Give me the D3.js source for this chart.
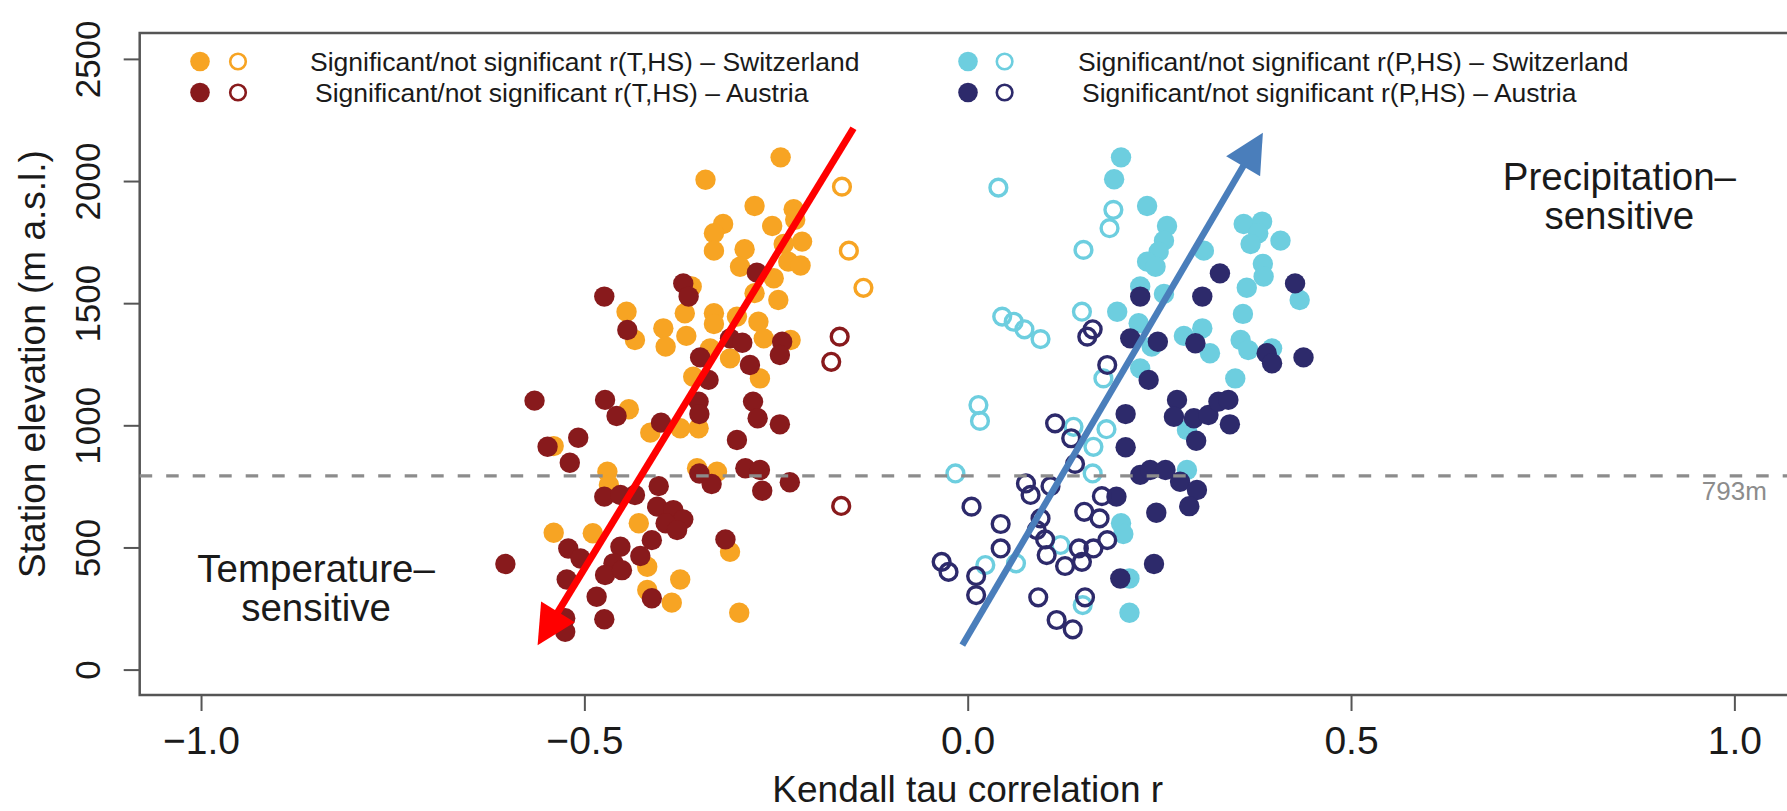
<!DOCTYPE html>
<html><head><meta charset="utf-8">
<script src="https://cdn.jsdelivr.net/npm/d3@7"></script>
<style>html,body{margin:0;padding:0;background:#fff;overflow:hidden}</style>
</head><body><svg id="c" width="1787" height="811"></svg>
<script>
// ---------------- data ----------------
const xTicks = [-1, -0.5, 0, 0.5, 1];
const yTicks = [0, 500, 1000, 1500, 2000, 2500];
const thresholdElevation = 793;
const thresholdLabel = "793m";
const xTitle = "Kendall tau correlation r";
const yTitle = "Station elevation (m a.s.l.)";
const legendLabels = [
  "Significant/not significant r(T,HS) \u2013 Switzerland",
  "Significant/not significant r(T,HS) \u2013 Austria",
  "Significant/not significant r(P,HS) \u2013 Switzerland",
  "Significant/not significant r(P,HS) \u2013 Austria"
];
const regionLabels = [["Temperature\u2013","sensitive"],["Precipitation\u2013","sensitive"]];
const regionAnchors = [[-0.85, 359], [0.85, 1963]];
// arrows: [start, tip] in (r, elevation)
const tempArrow = [[-0.149, 2216], [-0.561, 100]];
const precArrow = [[-0.007, 100], [0.385, 2198]];

// [r, elevation] per station
const chT_sig = [[-0.244,2097],[-0.342,2005],[-0.278,1898],[-0.227,1885],[-0.319,1824],[-0.255,1816],[-0.331,1786],[-0.225,1841],[-0.331,1715],[-0.291,1721],[-0.216,1752],[-0.240,1742],[-0.297,1649],[-0.234,1670],[-0.218,1654],[-0.253,1602],[-0.278,1541],[-0.247,1513],[-0.360,1568],[-0.445,1465],[-0.369,1459],[-0.331,1459],[-0.397,1397],[-0.434,1349],[-0.394,1322],[-0.367,1366],[-0.331,1415],[-0.301,1445],[-0.273,1424],[-0.266,1356],[-0.231,1349],[-0.310,1274],[-0.336,1315],[-0.358,1199],[-0.271,1192],[-0.442,1066],[-0.351,988],[-0.375,988],[-0.414,970],[-0.540,915],[-0.470,810],[-0.468,756],[-0.353,824],[-0.327,810],[-0.429,599],[-0.540,560],[-0.489,558],[-0.418,421],[-0.310,482],[-0.375,369],[-0.418,326],[-0.386,274],[-0.298,233]];
const chT_ns = [[-0.164,1977],[-0.155,1715],[-0.136,1563]];
const atT_sig = [[-0.275,1625],[-0.371,1581],[-0.364,1527],[-0.474,1527],[-0.444,1390],[-0.310,1356],[-0.294,1338],[-0.242,1342],[-0.245,1288],[-0.349,1278],[-0.284,1247],[-0.338,1186],[-0.565,1101],[-0.473,1104],[-0.458,1038],[-0.351,1097],[-0.350,1046],[-0.400,1011],[-0.280,1097],[-0.274,1029],[-0.245,1004],[-0.508,949],[-0.548,912],[-0.519,847],[-0.301,940],[-0.350,803],[-0.334,760],[-0.290,824],[-0.271,817],[-0.268,732],[-0.232,767],[-0.403,751],[-0.474,708],[-0.453,715],[-0.434,715],[-0.405,667],[-0.384,653],[-0.371,615],[-0.394,599],[-0.379,571],[-0.412,530],[-0.521,496],[-0.505,455],[-0.453,503],[-0.427,465],[-0.462,435],[-0.473,387],[-0.451,407],[-0.603,432],[-0.523,369],[-0.316,533],[-0.412,292],[-0.484,298],[-0.474,206],[-0.525,210],[-0.525,155]];
const atT_ns = [[-0.167,1363],[-0.178,1260],[-0.165,670]];
const chP_sig = [[0.200,2097],[0.191,2007],[0.234,1898],[0.260,1816],[0.256,1756],[0.249,1711],[0.234,1670],[0.245,1649],[0.360,1824],[0.384,1834],[0.379,1786],[0.369,1742],[0.408,1756],[0.308,1715],[0.385,1661],[0.386,1609],[0.364,1563],[0.433,1513],[0.225,1568],[0.256,1538],[0.195,1465],[0.223,1418],[0.359,1456],[0.306,1397],[0.282,1366],[0.356,1349],[0.366,1308],[0.316,1295],[0.397,1315],[0.240,1322],[0.225,1233],[0.349,1192],[0.286,981],[0.286,817],[0.200,599],[0.203,555],[0.211,373],[0.211,233]];
const chP_ns = [[0.040,1973],[0.190,1882],[0.185,1807],[0.151,1718],[0.045,1445],[0.060,1424],[0.074,1393],[0.095,1353],[0.149,1465],[0.177,1192],[0.014,1083],[0.016,1018],[0.138,994],[0.181,984],[0.164,912],[0.163,803],[-0.016,803],[0.121,510],[0.023,428],[0.063,435],[0.150,264]];
const atP_sig = [[0.329,1622],[0.427,1581],[0.306,1527],[0.225,1527],[0.212,1356],[0.248,1342],[0.297,1336],[0.390,1295],[0.397,1254],[0.438,1278],[0.236,1186],[0.273,1104],[0.269,1035],[0.295,1029],[0.314,1042],[0.327,1097],[0.340,1104],[0.342,1004],[0.298,937],[0.206,1046],[0.206,910],[0.225,797],[0.238,817],[0.258,817],[0.277,769],[0.299,735],[0.289,669],[0.194,708],[0.246,642],[0.243,432],[0.199,373]];
const atP_ns = [[0.163,1393],[0.156,1363],[0.182,1247],[0.114,1008],[0.135,947],[0.140,842],[0.076,762],[0.082,715],[0.108,751],[0.175,710],[0.005,667],[0.152,646],[0.172,619],[0.043,596],[0.095,619],[0.090,571],[0.101,533],[0.043,496],[0.145,496],[0.164,496],[0.182,530],[0.103,469],[0.127,424],[0.149,441],[-0.034,441],[-0.025,400],[0.011,383],[0.011,305],[0.092,296],[0.153,296],[0.116,203],[0.137,165]];

// ---------------- drawing ----------------
const FONT = "'Liberation Sans', Arial, Helvetica, sans-serif";
const C = {orange:"#F7A423", darkred:"#881A1C", cyan:"#6DCEDF", navy:"#2D2A6B"};
const svg = d3.select("#c");
svg.append("rect").attr("width",1787).attr("height",811).attr("fill","#fff");

const x = d3.scaleLinear().domain([-1.08, 1.08]).range([139.7, 1795.7]);
const y = d3.scaleLinear().domain([-104, 2606]).range([695, 33]);

// x axis
const gx = svg.append("g").attr("transform","translate(0,695)")
  .call(d3.axisBottom(x).tickValues(xTicks).tickFormat(d3.format(".1f")).tickSize(16).tickSizeOuter(0));
gx.select(".domain").remove();
gx.selectAll(".tick line").attr("stroke","#555").attr("stroke-width",2);
gx.selectAll(".tick text").attr("y",59).attr("dy",0)
  .attr("font-family",FONT).attr("font-size",39).attr("fill","#1a1a1a");

// y axis
const gy = svg.append("g").attr("transform","translate(139.7,0)")
  .call(d3.axisLeft(y).tickValues(yTicks).tickFormat(d3.format("d")).tickSize(16).tickSizeOuter(0));
gy.select(".domain").remove();
gy.selectAll(".tick line").attr("stroke","#555").attr("stroke-width",2);
gy.selectAll(".tick text").attr("transform","rotate(-90)").attr("x",0).attr("y",-40).attr("dy",0)
  .attr("text-anchor","middle").attr("font-family",FONT).attr("font-size",35).attr("fill","#1a1a1a");

// box
svg.append("rect").attr("x",x(-1.08)).attr("y",y(2606)).attr("width",x(1.08)-x(-1.08)).attr("height",y(-104)-y(2606))
  .attr("fill","none").attr("stroke","#555").attr("stroke-width",2.5);

// titles
svg.append("text").attr("x",x(0)).attr("y",802).attr("text-anchor","middle")
  .attr("font-family",FONT).attr("font-size",37).attr("fill","#1a1a1a").text(xTitle);
svg.append("text").attr("transform",`translate(45,${(y(2606)+y(-104))/2}) rotate(-90)`).attr("text-anchor","middle")
  .attr("font-family",FONT).attr("font-size",37).attr("fill","#1a1a1a").text(yTitle);

// points
function drawPts(data, color, filled){
  svg.append("g").selectAll("circle").data(data).join("circle")
    .attr("cx",d=>x(d[0])).attr("cy",d=>y(d[1]))
    .attr("r", filled ? 10.2 : 8.4)
    .attr("fill", filled ? color : "none")
    .attr("stroke", filled ? "none" : color)
    .attr("stroke-width", filled ? 0 : 3.4);
}
drawPts(chT_sig, C.orange, true);
drawPts(chT_ns, C.orange, false);
drawPts(atT_sig, C.darkred, true);
drawPts(atT_ns, C.darkred, false);
drawPts(chP_sig, C.cyan, true);
drawPts(chP_ns, C.cyan, false);
drawPts(atP_sig, C.navy, true);
drawPts(atP_ns, C.navy, false);

// threshold line
svg.append("line").attr("x1",x(-1.08)).attr("x2",1787).attr("y1",y(thresholdElevation)).attr("y2",y(thresholdElevation))
  .attr("stroke","#8c8c8c").attr("stroke-width",3.2).attr("stroke-dasharray","12.5,14");
svg.append("text").attr("x",x(1)).attr("y",y(thresholdElevation)+24).attr("text-anchor","middle")
  .attr("font-family",FONT).attr("font-size",26).attr("fill","#8c8c8c").text(thresholdLabel);

// region labels
regionLabels.forEach((lines,i)=>{
  const t = svg.append("text").attr("text-anchor","middle").attr("font-family",FONT)
    .attr("font-size",38.5).attr("fill","#1a1a1a");
  lines.forEach((s,j)=>{
    t.append("tspan").attr("x",x(regionAnchors[i][0])).attr("y",y(regionAnchors[i][1])+j*39).text(s);
  });
});

// arrows
function drawArrow(pts, color, w){
  const p0=[x(pts[0][0]),y(pts[0][1])], p1=[x(pts[1][0]),y(pts[1][1])];
  const dx=p1[0]-p0[0], dy=p1[1]-p0[1], L=Math.hypot(dx,dy), ux=dx/L, uy=dy/L;
  const hl=39, hw=19.7;
  const b=[p1[0]-ux*hl, p1[1]-uy*hl];
  svg.append("line").attr("x1",p0[0]).attr("y1",p0[1]).attr("x2",b[0]+ux*4).attr("y2",b[1]+uy*4)
    .attr("stroke",color).attr("stroke-width",w);
  svg.append("path").attr("d",`M${p1[0]},${p1[1]}L${b[0]-uy*hw},${b[1]+ux*hw}L${b[0]+uy*hw},${b[1]-ux*hw}Z`)
    .attr("fill",color);
}
drawArrow(tempArrow, "#FF0000", 7);
drawArrow(precArrow, "#4A7EBB", 6.5);

// legend
const legendCols = [
  {sx:[200,238], tx:[310,315], col:[C.orange,C.darkred]},
  {sx:[968,1004.6], tx:[1078,1082], col:[C.cyan,C.navy]}
];
const rowY=[61.5,92.5];
legendCols.forEach((c,ci)=>{
  [0,1].forEach(ri=>{
    const g=svg.append("g");
    g.append("circle").attr("cx",c.sx[0]).attr("cy",rowY[ri]).attr("r",9.8).attr("fill",c.col[ri]);
    g.append("circle").attr("cx",c.sx[1]).attr("cy",rowY[ri]).attr("r",7.8).attr("fill","none")
      .attr("stroke",c.col[ri]).attr("stroke-width",2.6);
    g.append("text").attr("x",c.tx[ri]).attr("y",rowY[ri]+9.5).attr("font-family",FONT)
      .attr("font-size",26.5).attr("fill","#1a1a1a").text(legendLabels[ci*2+ri]);
  });
});
</script></body></html>
